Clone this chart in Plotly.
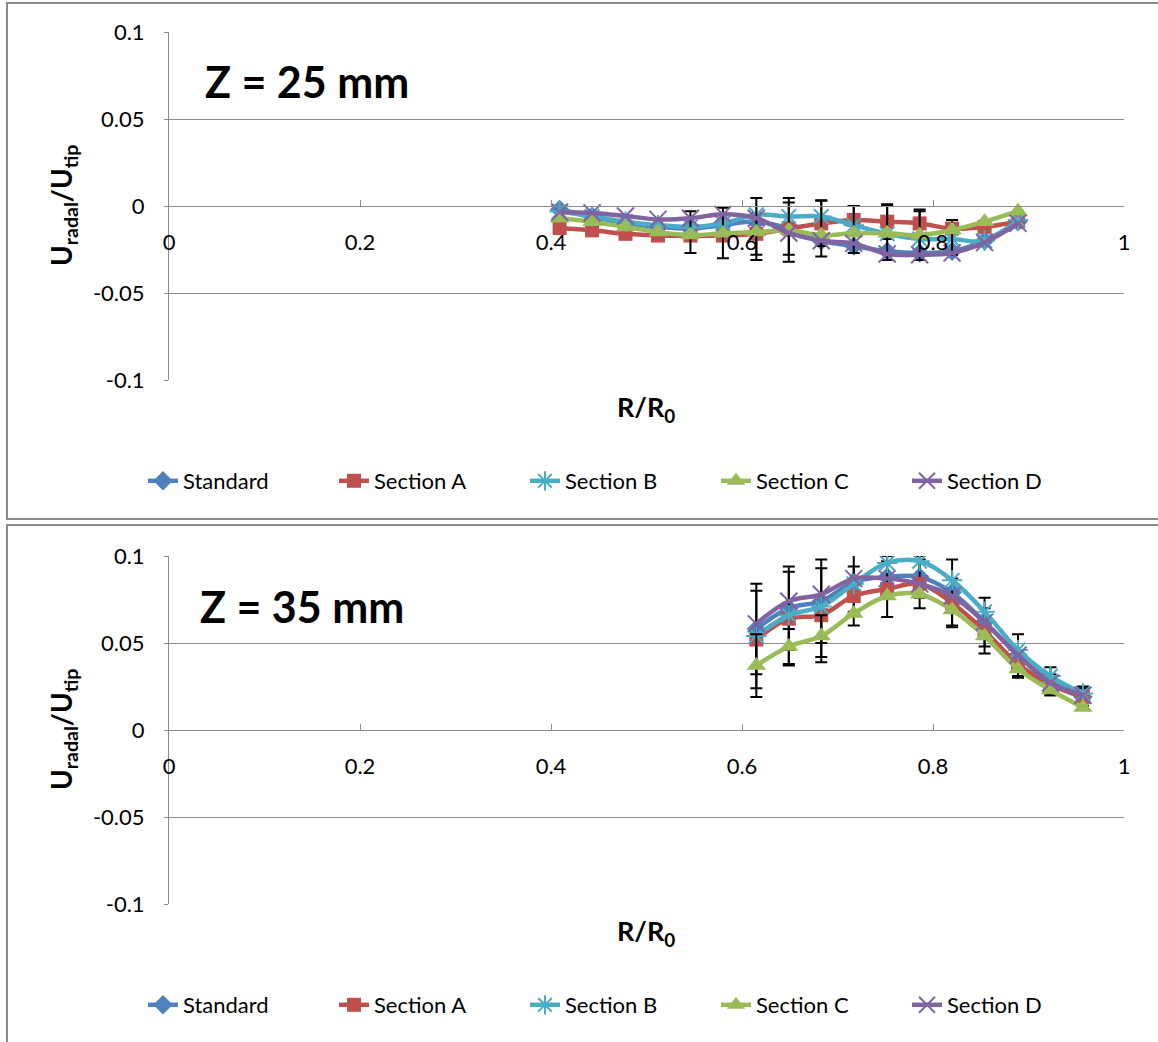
import plotly.graph_objects as go

# ---------------- data ----------------
series_names = ["Standard", "Section A", "Section B", "Section C", "Section D"]

# Z = 25 mm
x_z25 = [0.409, 0.443, 0.478, 0.512, 0.546, 0.580, 0.615, 0.649, 0.683,
         0.717, 0.752, 0.786, 0.820, 0.854, 0.889]
std_z25 = [-0.002, -0.006, -0.010, -0.012, -0.013, -0.011, -0.009, -0.013, -0.020,
           -0.023, -0.026, -0.027, -0.026, -0.020, -0.009]
secA_z25 = [-0.0127, -0.014, -0.016, -0.017, -0.017, -0.017, -0.016, -0.013, -0.010,
            -0.008, -0.009, -0.010, -0.013, -0.012, -0.009]
secB_z25 = [-0.003, -0.006, -0.009, -0.011, -0.012, -0.010, -0.005, -0.006, -0.006,
            -0.011, -0.016, -0.019, -0.019, -0.020, -0.008]
secC_z25 = [-0.007, -0.009, -0.012, -0.015, -0.0167, -0.0157, -0.015, -0.014, -0.0167,
            -0.0157, -0.0157, -0.0167, -0.0138, -0.009, -0.003]
secD_z25 = [-0.0036, -0.004, -0.0057, -0.0077, -0.007, -0.0048, -0.007, -0.0155, -0.020,
            -0.0215, -0.0276, -0.028, -0.027, -0.021, -0.010]
# error bars (None = no bar)
errA_z25 = [None, None, None, None, None, None, 0.012, 0.015, 0.013,
            0.008, 0.010, 0.008, None, None, None]
errC_plus_z25 = [None, None, None, None, 0.0137, 0.0147, 0.0196, 0.0186, 0.020,
                 0.0157, 0.0157, 0.0137, 0.0058, None, None]
errC_minus_z25 = [None, None, None, None, 0.0103, 0.0143, 0.016, 0.018, 0.0123,
                  0.0113, 0.0153, 0.0143, 0.0142, None, None]

# Z = 35 mm
x_z35 = [0.615, 0.649, 0.683, 0.717, 0.752, 0.786, 0.820, 0.854, 0.889, 0.923, 0.957]
std_z35 = [0.058, 0.070, 0.074, 0.085, 0.088, 0.088, 0.079, 0.062, 0.043, 0.028, 0.019]
secA_z35 = [0.052, 0.064, 0.066, 0.077, 0.081, 0.084, 0.073, 0.057, 0.038, 0.026, 0.019]
secB_z35 = [0.054, 0.066, 0.071, 0.084, 0.096, 0.097, 0.086, 0.068, 0.046, 0.031, 0.021]
secC_z35 = [0.037, 0.048, 0.054, 0.067, 0.077, 0.078, 0.069, 0.054, 0.035, 0.023, 0.013]
secD_z35 = [0.061, 0.074, 0.078, 0.087, 0.087, 0.084, 0.077, 0.062, 0.043, 0.027, 0.020]
errStd_z35 = [0.026, 0.024, 0.024, 0.017, 0.012, 0.012, 0.019, 0.014, 0.012, 0.008, 0.006]
errA_z35 = [0.028, 0.027, 0.027, 0.017, 0.016, 0.014, 0.014, 0.013, 0.008, 0.006, 0.005]
errC_z35 = [0.018, 0.010, 0.012, None, None, None, None, None, None, None, None]

y_ticks = [-0.1, -0.05, 0, 0.05, 0.1]
y_tick_text = ["-0.1", "-0.05", "0", "0.05", "0.1"]
x_ticks = [0, 0.2, 0.4, 0.6, 0.8, 1]
x_tick_text = ["0", "0.2", "0.4", "0.6", "0.8", "1"]

# ---------------- styling ----------------
W, H = 1158, 1042
FONT = "Lato, Carlito, Calibri, sans-serif"
colors = ["#4F81BD", "#C0504D", "#4BACC6", "#9BBB59", "#8064A2"]
symbols = ["diamond", "square", "asterisk-open", "triangle-up", "x-thin-open"]
sizes = [15, 14, 17, 17, 17]
GRID = "#8C8C8C"


def py(pix):
    return 1 - pix / H


def px(pix):
    return pix / W


fig = go.Figure()

panels = [
    dict(x=x_z25, ys=[std_z25, secA_z25, secB_z25, secC_z25, secD_z25],
         errs={1: (errA_z25, errA_z25), 3: (errC_plus_z25, errC_minus_z25)},
         xa="x", ya="y", legend="legend"),
    dict(x=x_z35, ys=[std_z35, secA_z35, secB_z35, secC_z35, secD_z35],
         errs={0: (errStd_z35, errStd_z35), 1: (errA_z35, errA_z35), 3: (errC_z35, errC_z35)},
         xa="x2", ya="y2", legend="legend2"),
]

for p in panels:
    for i, name in enumerate(series_names):
        mk = dict(symbol=symbols[i], size=sizes[i], color=colors[i])
        if "open" in symbols[i]:
            mk["line"] = dict(color=colors[i], width=2)
        tr = dict(
            x=p["x"], y=p["ys"][i], name=name, mode="lines+markers",
            line=dict(color=colors[i], width=4.5, shape="spline"),
            marker=mk, xaxis=p["xa"], yaxis=p["ya"], legend=p["legend"],
        )
        if i in p["errs"]:
            plus, minus = p["errs"][i]
            tr["error_y"] = dict(type="data", symmetric=False, array=plus,
                                 arrayminus=minus, color="black", thickness=2, width=6)
        fig.add_trace(go.Scatter(**tr))

# geometry (pixels)
x_left, x_right = 169, 1124
top = dict(y_top=32, y_bot=380, y_zero=206)
bot = dict(y_top=556, y_bot=904, y_zero=730)

axis_font = dict(family=FONT, size=22, color="black")


def yaxis_cfg(g, anchor):
    return dict(domain=[py(g["y_bot"]), py(g["y_top"])], range=[-0.1, 0.1], anchor=anchor,
                tickvals=y_ticks, ticktext=y_tick_text, showgrid=True, gridcolor=GRID,
                gridwidth=1, zeroline=False, showline=True, linecolor=GRID, linewidth=1,
                ticks="outside", ticklen=4, tickcolor=GRID, tickfont=axis_font,
                ticklabelstandoff=15, automargin=False, fixedrange=True)


def xaxis_cfg(g):
    return dict(domain=[px(x_left), px(x_right)], range=[0, 1], anchor="free",
                position=py(g["y_zero"]), tickvals=x_ticks, ticktext=x_tick_text,
                showgrid=False, zeroline=False, showline=True, linecolor=GRID,
                linewidth=1, ticks="inside", ticklen=6, tickcolor=GRID,
                tickfont=axis_font, ticklabelstandoff=17, automargin=False,
                fixedrange=True)


legend_common = dict(orientation="h", xanchor="left", yanchor="middle",
                     font=dict(family=FONT, size=22, color="black"),
                     entrywidth=146, entrywidthmode="pixels", bgcolor="rgba(0,0,0,0)")

fig.update_layout(
    template="none",
    width=W, height=H, margin=dict(l=0, r=0, t=0, b=0, pad=0, autoexpand=False),
    paper_bgcolor="white", plot_bgcolor="white",
    font=dict(family=FONT, size=22, color="black"),
    xaxis=xaxis_cfg(top), yaxis=yaxis_cfg(top, "x"),
    xaxis2=xaxis_cfg(bot), yaxis2=yaxis_cfg(bot, "x2"),
    legend=dict(x=px(143), y=py(481), **legend_common),
    legend2=dict(x=px(143), y=py(1005), **legend_common),
    showlegend=True,
)

# panel frames
for (y0, y1) in [(519, 3), (1060, 525)]:
    fig.add_shape(type="rect", xref="paper", yref="paper",
                  x0=px(7), x1=px(1175), y0=py(y0), y1=py(y1),
                  line=dict(color="#8A8A8A", width=2), fillcolor="rgba(0,0,0,0)", layer="below")

# labels
for g, ztxt, zx in [(top, "Z = 25 mm", 203), (bot, "Z = 35 mm", 198)]:
    fig.add_annotation(xref="paper", yref="paper", x=px(zx), y=py(g["y_zero"] - 124),
                       xanchor="left", yanchor="middle", showarrow=False,
                       text="<b>" + ztxt + "</b>", font=dict(family=FONT, size=43, color="black"))
    fig.add_annotation(xref="paper", yref="paper", x=px(63), y=py(g["y_zero"]),
                       xanchor="center", yanchor="middle", showarrow=False, textangle=-90,
                       text="<b>U<sub>radal</sub>/U<sub>tip</sub></b>",
                       font=dict(family=FONT, size=28, color="black"))
    fig.add_annotation(xref="paper", yref="paper", x=px(646), y=py(g["y_bot"] + 28),
                       xanchor="center", yanchor="middle", showarrow=False,
                       text="<b>R/R<sub>0</sub></b>", font=dict(family=FONT, size=27, color="black"))

fig.write_html("out.html", config={"displayModeBar": False},
               post_script="document.body.style.margin='0px';")
